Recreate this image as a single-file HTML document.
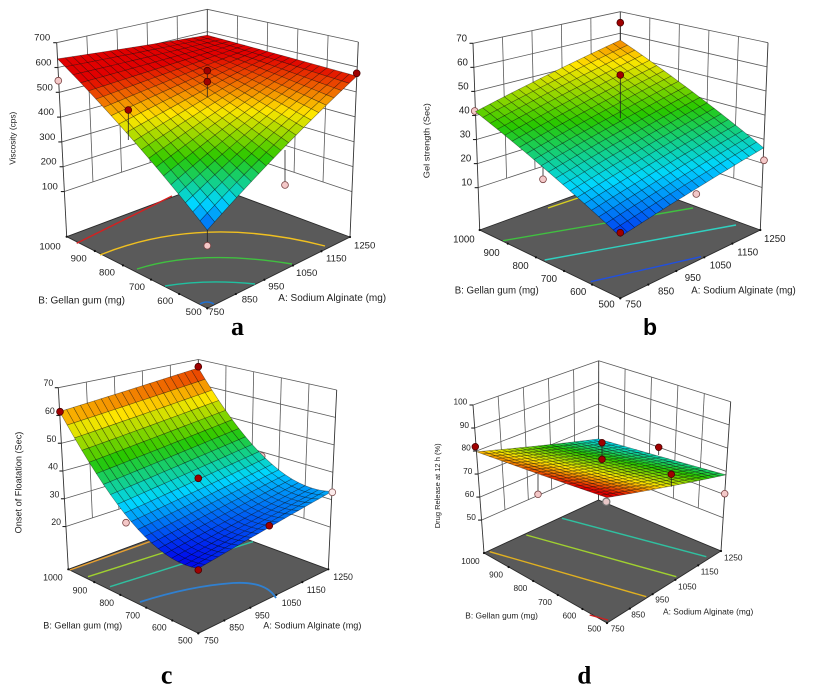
<!DOCTYPE html>
<html><head><meta charset="utf-8">
<style>
html,body{margin:0;padding:0;background:#fff;width:817px;height:687px;overflow:hidden;}
svg{display:block;}
text{font-family:"Liberation Sans",sans-serif;fill:#1e1e1e;}
.ta{font-size:9.6px}.tta{font-size:10px}
.tb{font-size:9.7px}.ttb{font-size:9.7px}
.tc{font-size:8.8px}.ttc{font-size:9.1px}
.td{font-size:8.3px}.ttd{font-size:8.4px}
.e{text-anchor:end}
.lt{font-family:"Liberation Serif",serif;font-weight:bold;fill:#000;text-anchor:middle}
.ls{font-family:"Liberation Sans",sans-serif;font-weight:bold;fill:#000;text-anchor:middle}
.stem{stroke:#222;stroke-width:0.8}
.rd{fill:#a00000;stroke:#4a0000;stroke-width:0.8}
.pk{fill:#f4c8c8;stroke:#7a4444;stroke-width:0.8}
</style></head><body>
<svg id="svg" width="817" height="687" viewBox="0 0 817 687" xmlns="http://www.w3.org/2000/svg">
<rect width="817" height="687" fill="#fff"/>

<!-- ===== Panel a ===== -->
<g id="a0"></g>
<g fill="none" stroke-width="1.4">
<path d="M76.7,243.3 L172,196" stroke="#d42020"/>
<path d="M100,255 Q201,214 325,246" stroke="#f0c020"/>
<path d="M137,269 Q200,249 292,264" stroke="#40c040"/>
<path d="M165,286 Q207,279 255,284" stroke="#20c0a0"/>
<path d="M200,304 Q207,300 214,304" stroke="#2070d0"/>
</g>
<g>
<line class="stem" x1="207.3" y1="228" x2="207.3" y2="245.7"/>
<line class="stem" x1="285" y1="150" x2="285" y2="185"/>
<circle class="pk" cx="58.3" cy="80.7" r="3.4"/>
<circle class="pk" cx="207.3" cy="245.7" r="3.4"/>
<circle class="pk" cx="285" cy="185" r="3.4"/>
</g>
<g id="a1"></g>
<g>
<line class="stem" x1="207.3" y1="70.7" x2="207.3" y2="97"/>
<line class="stem" x1="128.3" y1="110" x2="128.3" y2="140"/>
<circle class="rd" cx="207.3" cy="70.7" r="3.4"/>
<circle class="rd" cx="207.3" cy="81.7" r="3.4"/>
<circle class="rd" cx="128.3" cy="110" r="3.4"/>
<circle class="rd" cx="356.7" cy="73.3" r="3.4"/>
</g>

<!-- ===== Panel b ===== -->
<g id="b0"></g>
<g fill="none" stroke-width="1.4">
<path d="M548,208 L590,194" stroke="#d8d020"/>
<path d="M503,240.7 L693,208" stroke="#40c040"/>
<path d="M544.7,260 L736,225" stroke="#30d0c0"/>
<path d="M590.7,281.7 L701,256.7" stroke="#2050e0"/>
</g>
<g>
<line class="stem" x1="543" y1="160" x2="543" y2="179.3"/>
<circle class="pk" cx="474.7" cy="111" r="3.4"/>
<circle class="pk" cx="543" cy="179.3" r="3.4"/>
<circle class="pk" cx="696.3" cy="194" r="3.4"/>
</g>
<g id="b1"></g>
<g>
<line class="stem" x1="620.3" y1="22.7" x2="620.3" y2="40"/>
<line class="stem" x1="620.3" y1="75" x2="620.3" y2="118.3"/>
<circle class="rd" cx="620.3" cy="22.7" r="3.4"/>
<circle class="rd" cx="620.3" cy="75" r="3.4"/>
<circle class="rd" cx="620.3" cy="232.7" r="3.4"/>
<circle class="pk" cx="764" cy="160.3" r="3.4"/>
</g>

<!-- ===== Panel c ===== -->
<g id="c0"></g>
<g fill="none" stroke-width="1.4">
<path d="M70,570 L160,538" stroke="#e8a030"/>
<path d="M88,576.7 L175,549" stroke="#a0d030"/>
<path d="M110,586.7 L253,541.7" stroke="#30c0a0"/>
<path d="M140,602 Q190,586 233,583 Q266,581 276,598" stroke="#3080d0" stroke-width="1.8"/>
</g>
<g>
<circle class="pk" cx="261.7" cy="456" r="3.4"/>
<circle class="pk" cx="126" cy="522.7" r="3.4"/>
</g>
<g id="c1"></g>
<g>
<circle class="rd" cx="198.3" cy="366.7" r="3.4"/>
<circle class="rd" cx="60" cy="411.7" r="3.4"/>
<circle class="rd" cx="198.3" cy="478.3" r="3.4"/>
<circle class="rd" cx="269.3" cy="525.7" r="3.4"/>
<circle class="rd" cx="198.3" cy="570" r="3.4"/>
<circle cx="332.3" cy="492.3" r="3.4" fill="#fbeaea" stroke="#8a5a5a" stroke-width="0.8"/>
</g>

<!-- ===== Panel d ===== -->
<g id="d0"></g>
<g fill="none" stroke-width="1.4">
<path d="M589.7,615 L608,620" stroke="#d02020"/>
<path d="M489.7,551.7 L646.3,596.7" stroke="#e0b020"/>
<path d="M526.3,535 L676.3,576.7" stroke="#a0d030"/>
<path d="M562,518.3 L706.3,556.7" stroke="#30c0a0"/>
</g>
<g>
<line class="stem" x1="538" y1="474" x2="538" y2="494.3"/>
<circle class="pk" cx="538" cy="494.3" r="3.3"/>
</g>
<g id="d1"></g>
<g>
<line class="stem" x1="602" y1="442.7" x2="602" y2="460"/>
<line class="stem" x1="658.7" y1="447.3" x2="658.7" y2="455"/>
<line class="stem" x1="671.3" y1="474.3" x2="671.3" y2="486.7"/>
<circle class="rd" cx="475.3" cy="446.7" r="3.3"/>
<circle class="rd" cx="602" cy="442.7" r="3.3"/>
<circle class="rd" cx="602" cy="459.3" r="3.3"/>
<circle class="rd" cx="658.7" cy="447.3" r="3.3"/>
<circle class="rd" cx="671.3" cy="474.3" r="3.3"/>
<circle class="pk" cx="724.7" cy="493.7" r="3.3"/>
<circle cx="606.3" cy="501.7" r="3.6" fill="#e8c8c8" stroke="#777" stroke-width="1.2"/>
</g>

<!-- ===== Text: panel a ===== -->
<g class="ta">
<text class="e" x="50.2" y="40.7">700</text>
<text class="e" x="51.5" y="65.5">600</text>
<text class="e" x="52.8" y="90.4">500</text>
<text class="e" x="54" y="115.2">400</text>
<text class="e" x="55.3" y="140">300</text>
<text class="e" x="56.6" y="164.7">200</text>
<text class="e" x="57.9" y="189.5">100</text>
<text class="e" x="60.7" y="249.3">1000</text>
<text class="e" x="86.7" y="261.7">900</text>
<text class="e" x="115" y="275.7">800</text>
<text class="e" x="145" y="290">700</text>
<text class="e" x="173.3" y="304">600</text>
<text class="e" x="201.7" y="315">500</text>
<text x="208.3" y="315">750</text>
<text x="241.7" y="302.7">850</text>
<text x="268.3" y="289.3">950</text>
<text x="296" y="276">1050</text>
<text x="326" y="261.7">1150</text>
<text x="354" y="248.3">1250</text>
</g>
<text class="tta" x="38.3" y="303.3">B: Gellan gum (mg)</text>
<text class="tta" x="278.3" y="301">A: Sodium Alginate (mg)</text>
<text x="15.7" y="138.3" transform="rotate(-90 15.7 138.3)" text-anchor="middle" font-size="8.4" textLength="53" lengthAdjust="spacingAndGlyphs">Viscosity (cps)</text>
<text class="lt" x="237.5" y="335" font-size="26">a</text>

<!-- ===== Text: panel b ===== -->
<g class="tb">
<text class="e" x="467" y="41.3">70</text>
<text class="e" x="467.9" y="65.4">60</text>
<text class="e" x="468.7" y="89.5">50</text>
<text class="e" x="469.6" y="113.5">40</text>
<text class="e" x="470.5" y="137.5">30</text>
<text class="e" x="471.3" y="161.5">20</text>
<text class="e" x="472.2" y="185.6">10</text>
<text class="e" x="474.7" y="242.7">1000</text>
<text class="e" x="499.7" y="256">900</text>
<text class="e" x="528.7" y="269">800</text>
<text class="e" x="557" y="282">700</text>
<text class="e" x="586.3" y="295">600</text>
<text class="e" x="614.7" y="307.3">500</text>
<text x="625.3" y="307.3">750</text>
<text x="658" y="294.3">850</text>
<text x="684.7" y="281">950</text>
<text x="709.7" y="268.3">1050</text>
<text x="737.3" y="255.7">1150</text>
<text x="764" y="242">1250</text>
</g>
<text class="ttb" x="454.7" y="293.3">B: Gellan gum (mg)</text>
<text class="ttb" x="691.3" y="293.3">A: Sodium Alginate (mg)</text>
<text x="429.5" y="140.7" transform="rotate(-90 429.5 140.7)" text-anchor="middle" font-size="8.6" textLength="75" lengthAdjust="spacingAndGlyphs">Gel strength (Sec)</text>
<text class="ls" x="650" y="335" font-size="23">b</text>

<!-- ===== Text: panel c ===== -->
<g class="tc">
<text class="e" x="53.3" y="386.2">70</text>
<text class="e" x="54.8" y="414">60</text>
<text class="e" x="56.4" y="441.8">50</text>
<text class="e" x="57.9" y="469.6">40</text>
<text class="e" x="59.4" y="497.3">30</text>
<text class="e" x="61" y="525.1">20</text>
<text class="e" x="62.7" y="580.7">1000</text>
<text class="e" x="87.3" y="593.3">900</text>
<text class="e" x="114" y="606">800</text>
<text class="e" x="140" y="618.3">700</text>
<text class="e" x="166.7" y="630.7">600</text>
<text class="e" x="192.7" y="643.3">500</text>
<text x="204" y="643.3">750</text>
<text x="229.3" y="630.7">850</text>
<text x="255" y="618.3">950</text>
<text x="281.7" y="606">1050</text>
<text x="306.7" y="593">1150</text>
<text x="333.3" y="580">1250</text>
</g>
<text class="ttc" x="43.3" y="628.7">B: Gellan gum (mg)</text>
<text class="ttc" x="263.3" y="628.7">A: Sodium Alginate (mg)</text>
<text x="21.5" y="482.5" transform="rotate(-90 21.5 482.5)" text-anchor="middle" font-size="9.1" textLength="101.7" lengthAdjust="spacingAndGlyphs">Onset of Floatation (Sec)</text>
<text class="lt" x="166.7" y="683.3" font-size="26">c</text>

<!-- ===== Text: panel d ===== -->
<g class="td">
<text class="e" x="467.3" y="404.7">100</text>
<text class="e" x="469" y="427.8">90</text>
<text class="e" x="470.7" y="450.7">80</text>
<text class="e" x="472.4" y="473.8">70</text>
<text class="e" x="474.1" y="496.8">60</text>
<text class="e" x="475.9" y="519.8">50</text>
<text class="e" x="479.7" y="564">1000</text>
<text class="e" x="503" y="577.7">900</text>
<text class="e" x="527.3" y="591">800</text>
<text class="e" x="552" y="605">700</text>
<text class="e" x="576.3" y="618.3">600</text>
<text class="e" x="601.3" y="631.7">500</text>
<text x="610.7" y="631.7">750</text>
<text x="631.3" y="617.3">850</text>
<text x="655.3" y="602.7">950</text>
<text x="678" y="589.3">1050</text>
<text x="700.7" y="574.3">1150</text>
<text x="724" y="560.7">1250</text>
</g>
<text class="ttd" x="465.3" y="618.7">B: Gellan gum (mg)</text>
<text class="ttd" x="663" y="614.7">A: Sodium Alginate (mg)</text>
<text x="440" y="485.8" transform="rotate(-90 440 485.8)" text-anchor="middle" font-size="7.6" textLength="85" lengthAdjust="spacingAndGlyphs">Drug Release at 12 h (%)</text>
<text class="lt" x="584.3" y="683.3" font-size="25">d</text>
</svg>
<script>
(function(){
var NS="http://www.w3.org/2000/svg";
function E(g,t,a){var e=document.createElementNS(NS,t);for(var k in a)e.setAttribute(k,a[k]);g.appendChild(e);return e;}
function M(a,b,t){return [a[0]+(b[0]-a[0])*t,a[1]+(b[1]-a[1])*t];}
function S(q){return q[0].toFixed(2)+","+q[1].toFixed(2);}
var ST=[[0,0,0,235],[0.25,0,215,255],[0.5,40,200,0],[0.75,255,230,0],[1,225,0,0]];
function C(t){t=Math.max(0,Math.min(1,t));for(var i=1;i<ST.length;i++){if(t<=ST[i][0]+1e-9){var a=ST[i-1],b=ST[i],s=(t-a[0])/(b[0]-a[0]);return "rgb("+Math.round(a[1]+(b[1]-a[1])*s)+","+Math.round(a[2]+(b[2]-a[2])*s)+","+Math.round(a[3]+(b[3]-a[3])*s)+")";}}return "rgb(225,0,0)";}
function draw(id,p){
 function P(u,v,z){var w=(z-p.zf)/(p.zt-p.zf);var b=M(M(p.F,p.R,u),M(p.L,p.K,u),v);var t=M(M(p.Ft,p.Rt,u),M(p.Lt,p.Kt,u),v);return M(b,t,w);}
 var g0=document.getElementById(id+"0"),g1=document.getElementById(id+"1");
 function ln(a,b,c,w){E(g0,"line",{x1:a[0].toFixed(2),y1:a[1].toFixed(2),x2:b[0].toFixed(2),y2:b[1].toFixed(2),stroke:c,"stroke-width":w});}
 var zl=p.ticks[0],zt=p.zt,i,j,k;
 for(i=0;i<p.ticks.length;i++){var z=p.ticks[i];ln(P(0,1,z),P(1,1,z),"#5a5a5a",0.8);ln(P(1,0,z),P(1,1,z),"#5a5a5a",0.8);}
 for(k=1;k<5;k++){var s=k/5;ln(P(s,1,zl),P(s,1,zt),"#5a5a5a",0.8);ln(P(1,s,zl),P(1,s,zt),"#5a5a5a",0.8);}
 ln(P(0,1,p.zf),P(0,1,zt),"#333",0.9);ln(P(1,1,p.zf),P(1,1,zt),"#333",0.9);ln(P(1,0,p.zf),P(1,0,zt),"#333",0.9);
 for(i=0;i<p.ticks.length;i++){var q=P(0,1,p.ticks[i]);ln([q[0]-3.5,q[1]],q,"#222",1.1);}
 E(g0,"polygon",{points:[p.F,p.R,p.K,p.L].map(S).join(" "),fill:"#5a5a5a",stroke:"#2a2a2a","stroke-width":0.9});
 for(k=0;k<=5;k++){var s2=k/5;var qs=[M(p.L,p.F,s2),M(p.F,p.R,s2)];for(j=0;j<2;j++)E(g0,"circle",{cx:qs[j][0].toFixed(2),cy:qs[j][1].toFixed(2),r:1.1,fill:"#111"});}
 var N=20,cells=[];
 for(i=0;i<N;i++)for(j=0;j<N;j++)cells.push([i,j]);
 cells.sort(function(a,b){return (b[0]+b[1])-(a[0]+a[1]);});
 for(k=0;k<cells.length;k++){
  var ci=cells[k][0],cj=cells[k][1],u0=ci/N,u1=(ci+1)/N,v0=cj/N,v1=(cj+1)/N;
  var cs=[[u0,v0],[u1,v0],[u1,v1],[u0,v1]].map(function(c){return P(c[0],c[1],p.f(c[0],c[1]));});
  var fc=p.f((u0+u1)/2,(v0+v1)/2);
  E(g1,"polygon",{points:cs.map(S).join(" "),fill:C((fc-p.cmin)/(p.cmax-p.cmin)),stroke:"rgba(0,0,0,0.45)","stroke-width":0.6,"stroke-linejoin":"round"});
 }
}
draw("a",{F:[207.3,308.3],R:[350,237],L:[66.7,236.7],K:[207.3,184],Ft:[207.3,90],Rt:[358.3,42],Lt:[56.7,42.7],Kt:[207.3,9.3],
 zf:-82,zt:700,ticks:[100,200,300,400,500,600,700],cmin:157,cmax:570,
 f:function(u,v){return 198+365*u+437*v-416*u*v;}});
draw("b",{F:[620.3,298.3],R:[760.3,230],L:[479.7,230],K:[620.3,178.7],Ft:[620.3,86.6],Rt:[768,42.7],Lt:[473,43.3],Kt:[620.3,11.7],
 zf:-7.6,zt:70,ticks:[10,20,30,40,50,60,70],cmin:12,cmax:64,
 f:function(u,v){return 15+11.4*u+26.6*v+3.8*u*v;}});
draw("c",{F:[198.3,633.3],R:[328.3,569.3],L:[68.3,569.3],K:[198.3,521.3],Ft:[198.3,425.5],Rt:[336.7,390],Lt:[58.3,387.7],Kt:[198.3,359.5],
 zf:4.6,zt:70,ticks:[20,30,40,50,60,70],cmin:24,cmax:68,
 f:function(u,v){return 25+7*u+1*u*u-11*v+47.4*v*v-2.8*u*v;}});
draw("d",{F:[607,623],R:[721,551],L:[484,553],K:[598.5,500],Ft:[607,465.5],Rt:[730.7,401.7],Lt:[473,405],Kt:[598.7,360.7],
 zf:35.7,zt:100,ticks:[50,60,70,80,90,100],cmin:57,cmax:85,
 f:function(u,v){return 86.9-18.4*u-7.2*v+2.6*u*v;}});
})();
</script>
</body></html>
